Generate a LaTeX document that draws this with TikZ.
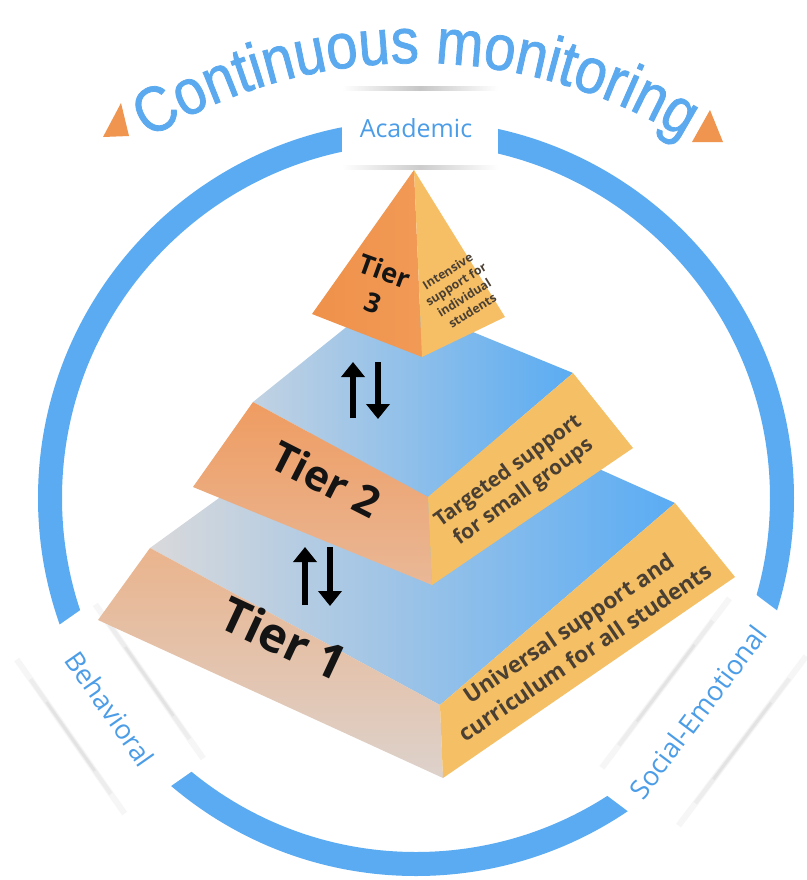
\documentclass[tikz,border=0pt]{standalone}
\usepackage{fontspec}
\setmainfont{Open Sans}
\newfontfamily\titlefont{Liberation Sans}[FakeStretch=0.88,FakeBold=1.2]
\usetikzlibrary{decorations.text,arrows.meta}
\definecolor{ringblue}{HTML}{5AABF2}
\definecolor{titleblue}{HTML}{5BA9EE}
\definecolor{lblblue}{HTML}{4C9DE8}
\definecolor{triorange}{HTML}{EF9550}
\definecolor{yface}{HTML}{F5BF65}
\definecolor{descgray}{HTML}{4A3F33}
\definecolor{topAL}{RGB}{217,217,219}
\definecolor{topAR}{RGB}{90,172,244}
\definecolor{topBL}{RGB}{194,210,226}
\definecolor{topBR}{RGB}{90,172,242}
\definecolor{frAT}{RGB}{234,180,141}
\definecolor{frAB}{RGB}{221,210,204}
\definecolor{frBT}{RGB}{239,156,97}
\definecolor{frBB}{RGB}{233,184,151}
\definecolor{t3L}{RGB}{239,145,74}
\definecolor{t3Lb}{RGB}{241,154,86}
\definecolor{t3R}{RGB}{246,191,102}
\tikzset{
  lbl/.style={text=lblblue, inner sep=0pt},
  tierlbl/.style={text=black!92, font=\bfseries, inner sep=0pt, align=center},
  desc/.style={text=descgray, font=\bfseries, inner sep=0pt, align=center},
  updown/.style={line width=3.3pt, -{Triangle[width=11.5pt,length=7.5pt]}},
  shadowA/.style={gray!7, line width=3pt},
  shadowB/.style={gray!14, line width=2pt},
  shadowC/.style={gray!22, line width=1.3pt},
}
\begin{document}
\begin{tikzpicture}[x=0.5pt,y=0.5pt]
\useasboundingbox (0,0) rectangle (807,-880);
\fill[white] (0,0) rectangle (807,-880);

% ring
\coordinate (ctr) at (416,-498);
\draw[ringblue, line width=12pt] (ctr) circle[radius=366];

% Behavioral band
\begin{scope}[shift={(110,-709)}, rotate=-55]
  \fill[white] (-98,-47) rectangle (98,47);
  \foreach \e in {-48,48} {
    \draw[shadowA] (-94,\e) -- (94,\e);
    \draw[shadowB] (-70,\e) -- (70,\e);
    \draw[shadowC] (-42,\e) -- (42,\e);
  }
\end{scope}
\node[lbl, rotate=-55, font=\fontsize{13.5}{16}\selectfont] (beh) at (110,-709) {Behavioral};

% Social-Emotional band
\begin{scope}[shift={(704,-712)}, rotate=53]
  \fill[white] (-125,-47) rectangle (125,47);
  \foreach \e in {-48,48} {
    \draw[shadowA] (-106,\e) -- (106,\e);
    \draw[shadowB] (-78,\e) -- (78,\e);
    \draw[shadowC] (-48,\e) -- (48,\e);
  }
\end{scope}
\node[lbl, rotate=53, font=\fontsize{13.5}{16}\selectfont] (soc) at (698,-712) {Social-Emotional};

% Academic box
\fill[white] (342,-86) rectangle (498,-168);
\shade[left color=white, right color=white, middle color=gray!45] (342,-86) rectangle (498,-90);
\shade[left color=white, right color=white, middle color=gray!40] (342,-165) rectangle (498,-169);
\node[lbl, font=\fontsize{12.5}{15}\selectfont] (acad) at (416,-128) {Academic};

% title along arc
\path[decorate, decoration={text along path, text align=center,
  text={|\titlefont\fontsize{32}{36}\selectfont\color{titleblue}|Continuous monitoring}}]
  (416,-573) ++(123:510) arc[start angle=123, end angle=57, radius=510];
\fill[triorange] (103,-137) -- (129,-136) -- (121,-103) -- cycle;
\fill[triorange] (692,-142) -- (723,-142) -- (710,-110) -- cycle;

% ---------- Tier 1 ----------
\coordinate (TL1) at (150,-548);
\coordinate (FT1) at (440,-705);
\coordinate (TR1) at (675,-503);
\coordinate (B1)  at (389,-375);
\coordinate (BL1) at (98,-620);
\coordinate (BF1) at (443,-778);
\coordinate (BR1) at (735,-577);
\shade[left color=topAL, right color=topAR] (TL1) -- (B1) -- (TR1) -- (FT1) -- cycle;
\shade[top color=frAT, bottom color=frAB] (TL1) -- (FT1) -- (BF1) -- (BL1) -- cycle;
\fill[yface] (FT1) -- (TR1) -- (BR1) -- (BF1) -- cycle;

% ---------- Tier 2 ----------
\coordinate (TL2) at (253,-402);
\coordinate (FT2) at (428,-497);
\coordinate (TR2) at (573,-373);
\coordinate (B2)  at (385,-296);
\coordinate (BL2) at (193,-487);
\coordinate (BF2) at (432,-585);
\coordinate (BR2) at (633,-448);
\shade[left color=topBL, right color=topBR] (TL2) -- (B2) -- (TR2) -- (FT2) -- cycle;
\shade[top color=frBT, bottom color=frBB] (TL2) -- (FT2) -- (BF2) -- (BL2) -- cycle;
\fill[yface] (FT2) -- (TR2) -- (BR2) -- (BF2) -- cycle;

% ---------- Tier 3 ----------
\coordinate (A3) at (414,-170);
\coordinate (L3) at (312,-314);
\coordinate (F3) at (422,-357);
\coordinate (R3) at (505,-317);
\shade[left color=t3L, right color=t3Lb] (A3) -- (L3) -- (F3) -- cycle;
\fill[t3R] (A3) -- (F3) -- (R3) -- cycle;

% arrows
\coordinate (u1s) at (353,-418); \coordinate (u1e) at (353,-362);
\coordinate (d1s) at (378,-362); \coordinate (d1e) at (378,-419);
\coordinate (u2s) at (305,-605); \coordinate (u2e) at (305,-547);
\coordinate (d2s) at (330,-547); \coordinate (d2e) at (330,-606);
\draw[updown] (u1s) -- (u1e);
\draw[updown] (d1s) -- (d1e);
\draw[updown] (u2s) -- (u2e);
\draw[updown] (d2s) -- (d2e);

% texts
\node[tierlbl, rotate=-20, font=\bfseries\fontsize{13.5}{17}\selectfont] (t3) at (379,-287) {Tier\\3};
\node[desc, rotate=32, font=\bfseries\fontsize{6.1}{7.8}\selectfont] (d3) at (460,-291) {Intensive\\support for\\individual\\students};
\node[tierlbl, rotate=-27, font=\bfseries\fontsize{21}{24}\selectfont] (t2) at (326,-479) {Tier 2};
\node[desc, rotate=36, font=\bfseries\fontsize{10.3}{13}\selectfont] (d2) at (516,-482) {Targeted support\\for small groups};
\node[tierlbl, rotate=-25, font=\bfseries\fontsize{24}{27}\selectfont] (t1) at (284,-638) {Tier 1};
\node[desc, rotate=34, font=\bfseries\fontsize{11.2}{14.5}\selectfont] (d1) at (577,-640) {Universal support and\\curriculum for all students};
\end{tikzpicture}
\end{document}
